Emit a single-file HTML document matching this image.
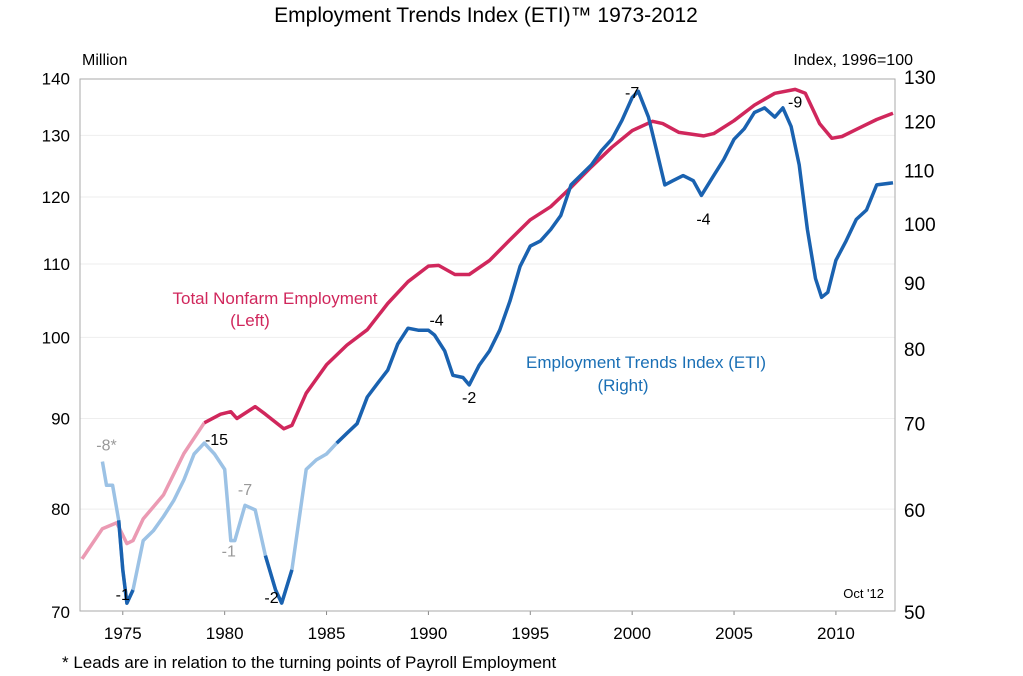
<!DOCTYPE html>
<html><head><meta charset="utf-8"><style>
body{margin:0;background:#fff;font-family:"Liberation Sans",sans-serif;}
svg text{font-family:"Liberation Sans",sans-serif;}
</style></head><body>
<svg id="c" width="1023" height="671">
<text x="486" y="22" font-size="21" text-anchor="middle">Employment Trends Index (ETI)™ 1973-2012</text>
<text x="82" y="65" font-size="16">Million</text>
<text x="913" y="65" font-size="16" text-anchor="end">Index, 1996=100</text>
<text x="62" y="668" font-size="17">* Leads are in relation to the turning points of Payroll Employment</text>
<text x="884" y="598" font-size="13" text-anchor="end">Oct '12</text>
<text x="275" y="304" font-size="17" fill="#d0275c" text-anchor="middle">Total Nonfarm Employment</text>
<text x="250" y="326" font-size="17" fill="#d0275c" text-anchor="middle">(Left)</text>
<text x="646" y="368" font-size="17" fill="#1a6fb5" text-anchor="middle">Employment Trends Index (ETI)</text>
<text x="623" y="391" font-size="17" fill="#1a6fb5" text-anchor="middle">(Right)</text>
<g id="g"></g>
</svg>
<script>
const leftTicks=[70,80,90,100,110,120,130,140];
const rightTicks=[50,60,70,80,90,100,110,120,130];
const xTicks=[1975,1980,1985,1990,1995,2000,2005,2010];
const payYears=[1973,1974,1974.7,1975.2,1975.5,1976,1977,1978,1979,1979.8,1980.3,1980.6,1981.5,1982,1982.9,1983.3,1984,1985,1986,1987,1988,1989,1990,1990.5,1991.3,1992,1993,1994,1995,1996,1997,1998,1999,2000,2001,2001.5,2002.3,2003.5,2004,2005,2006,2007,2008,2008.5,2009.2,2009.8,2010.3,2011,2012,2012.8];
const payVals=[75,78,78.6,76.5,76.8,79,81.5,86,89.5,90.5,90.8,90,91.4,90.5,88.8,89.2,93,96.5,99,101,104.5,107.5,109.7,109.8,108.5,108.5,110.5,113.5,116.5,118.5,121.5,124.8,128,130.8,132.4,132,130.5,129.9,130.3,132.5,135.2,137.3,138,137.3,132,129.5,129.8,131,132.7,133.8];
const etiYears=[1974,1974.2,1974.5,1974.8,1975,1975.2,1975.5,1976,1976.5,1977,1977.5,1978,1978.5,1979,1979.5,1980,1980.3,1980.5,1981,1981.5,1982,1982.5,1982.8,1983.3,1984,1984.5,1985,1985.5,1986,1986.5,1987,1987.5,1988,1988.5,1989,1989.5,1990,1990.3,1990.8,1991.2,1991.7,1992,1992.5,1993,1993.5,1994,1994.5,1995,1995.5,1996,1996.5,1997,1998,1998.5,1999,1999.5,2000,2000.3,2000.8,2001.2,2001.6,2002,2002.5,2003,2003.4,2004,2004.5,2005,2005.5,2006,2006.5,2007,2007.4,2007.8,2008.2,2008.6,2009,2009.3,2009.6,2010,2010.5,2011,2011.5,2012,2012.8];
const etiVals=[65.4,62.7,62.7,58.9,53.9,50.8,52,56.8,57.8,59.3,61,63.3,66.3,67.6,66.3,64.5,56.8,56.8,60.5,60,55.3,52,50.8,53.9,64.5,65.6,66.3,67.6,68.8,70,73.4,75.2,77,80.7,83,82.7,82.7,82,79.7,76.3,76,75,77.7,79.7,82.7,87.1,92.7,96.1,97,99,101.5,107.2,111.1,114,116.3,120.3,125.3,126.7,121,114,107.2,108,109,108,105.2,109,112.2,116.3,118.5,122,123,121,123,119,111.1,99,90.7,87.7,88.5,93.7,97,100.8,102.5,107.2,107.6];
const annotations=[["-8*",1974.2,66.7,"#999"],["-1",1975.0,51.1,"#000"],["-15",1979.6,67.4,"#000"],["-1",1980.2,55.2,"#999"],["-7",1981.0,61.6,"#999"],["-2",1982.3,50.8,"#000"],["-4",1990.4,83.4,"#000"],["-2",1992.0,72.6,"#000"],["-7",2000.0,125.2,"#000"],["-4",2003.5,99.9,"#000"],["-9",2008.0,123.1,"#000"]];
const L=80,R=895,T=79,B=611;
const X=y=>L+(y-1972.9)/40*(R-L);
const YL=v=>612-770*Math.log(v/70);
const YR=v=>612-560*Math.log(v/50);
const g=document.getElementById('g');const NS='http://www.w3.org/2000/svg';
function mk(t,a,p){const e=document.createElementNS(NS,t);for(const k in a)e.setAttribute(k,a[k]);(p||g).appendChild(e);return e;}
leftTicks.forEach(v=>{const y=YL(v);
if(v>70&&v<140){const l=mk('line',{x1:L,x2:R,y1:y,y2:y,stroke:'#eee'});}
const t=mk('text',{x:70,y:y+6,'font-size':17,'text-anchor':'end'});t.textContent=v;
});
rightTicks.forEach(v=>{const t=mk('text',{x:904,y:YR(v)+7,'font-size':19});t.textContent=v;
});
xTicks.forEach(v=>{const x=X(v);mk('line',{x1:x,x2:x,y1:B,y2:B+4,stroke:'#888'});
const t=mk('text',{x:x,y:639,'font-size':17,'text-anchor':'middle'});t.textContent=v;
});
const fr=mk('rect',{x:L,y:T,width:R-L,height:B-T,fill:'none',stroke:'#aaa'});

function path(xs,vs,Y,col,from,to,name){let d='';xs.forEach((x,i)=>{if(x<from||x>to)return;d+=(d?'L':'M')+X(x).toFixed(1)+','+Y(vs[i]).toFixed(1);});
const p=mk('path',{d:d,fill:'none',stroke:col,'stroke-width':3.5,'stroke-linejoin':'round'});
}
path(payYears,payVals,YL,'#eb9ab3',1972,1979.1,'payroll-line-light');
path(payYears,payVals,YL,'#d0275c',1979,2013,'payroll-line');
path(etiYears,etiVals,YR,'#9cc2e5',1974,1987.1,'eti-line-light');
path(etiYears,etiVals,YR,'#1a62b0',1974.8,1975.6,'eti-line-segment');
path(etiYears,etiVals,YR,'#1a62b0',1982,1983.4,'eti-line-segment');
path(etiYears,etiVals,YR,'#1a62b0',1985.5,2013,'eti-line');
annotations.forEach(a=>{const t=mk('text',{x:X(a[1]),y:YR(a[2]),'font-size':16,'text-anchor':'middle',fill:a[3]});t.textContent=a[0];
});
</script>
</body></html>
